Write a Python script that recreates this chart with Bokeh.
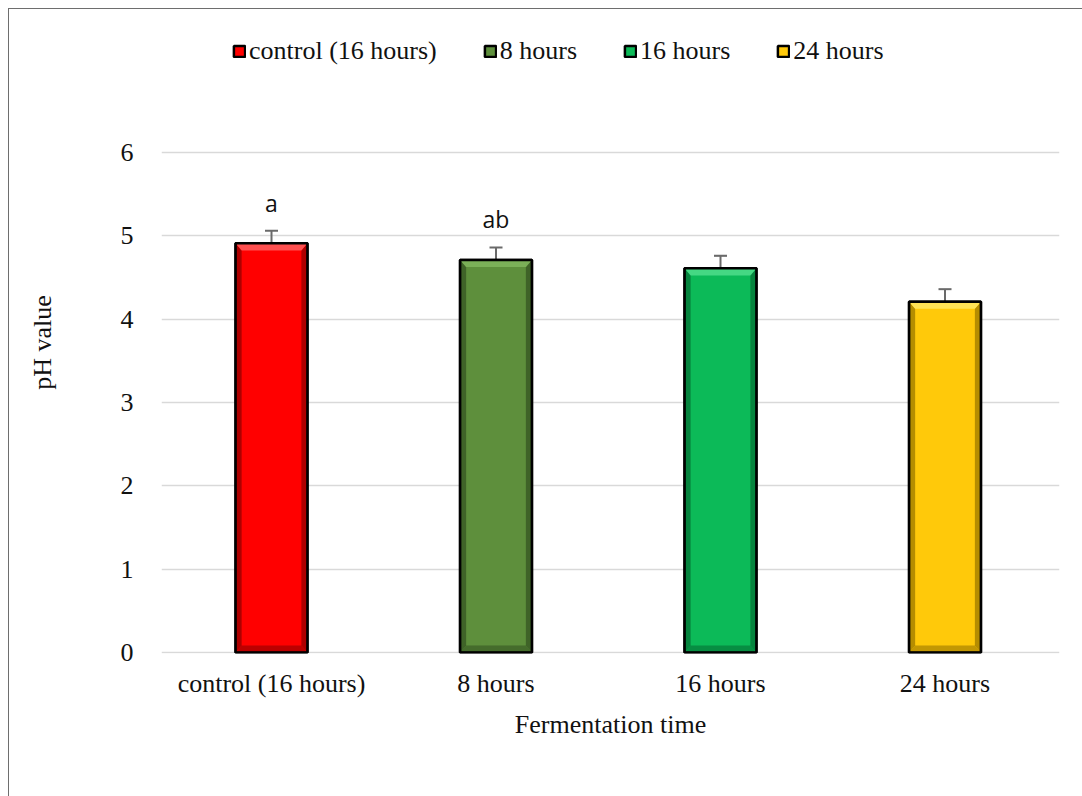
import numpy as np
from bokeh.plotting import figure
from bokeh.models import (ColumnDataSource, Range1d, FixedTicker, Whisker, TeeHead,
                          Legend, LegendItem)
from bokeh.core.properties import value
from bokeh.embed import file_html
from bokeh.resources import INLINE

# ---- data ----
categories = ["control (16 hours)", "8 hours", "16 hours", "24 hours"]
ph_values = [4.91, 4.71, 4.61, 4.21]
ph_errors = [0.15, 0.15, 0.15, 0.15]
sig_letters = ["a", "ab", "", ""]
y_ticks = [0, 1, 2, 3, 4, 5, 6]

# ---- styles ----
main_colors = ["#FF0000", "#5E8F3C", "#0CBA58", "#FFC90A"]
light_colors = ["#FF5050", "#7BB058", "#45D883", "#FFE356"]
dark_colors = ["#A00000", "#3A5C25", "#067A39", "#A88200"]
BAR_W = 0.32
DX = 0.027
DY = 0.085
FONT_PX = "26px"

n = len(categories)
xs = np.arange(1, n + 1, dtype=float)
vals = np.array(ph_values)
errs = np.array(ph_errors)

# frame spans from just under the legend down to the zero line;
# only ticks 0..6 are shown, the space above 6 holds the legend
p = figure(width=1074, height=788, output_backend="svg", toolbar_location=None,
           x_range=Range1d(0.51, n + 0.51), y_range=Range1d(-0.012, 7.452),
           min_border_left=152, min_border_right=24, min_border_top=22,
           min_border_bottom=144, margin=(8, 0, 0, 8))
p.styles = {"border-left": "1px solid #6E6E6E", "border-top": "1px solid #6E6E6E",
            "box-sizing": "border-box"}
p.outline_line_color = None
p.background_fill_color = "white"
p.border_fill_color = "white"

# grid
p.xgrid.grid_line_color = None
p.ygrid.grid_line_color = "#D9D9D9"
p.ygrid.grid_line_width = 1.5

# axes
p.xaxis.ticker = FixedTicker(ticks=list(xs))
p.xaxis.major_label_overrides = {float(x): c for x, c in zip(xs, categories)}
p.xaxis.major_label_overrides.update({int(x): c for x, c in zip(xs, categories)})
p.yaxis.ticker = FixedTicker(ticks=y_ticks)
for ax in (p.xaxis, p.yaxis):
    ax.axis_line_color = None
    ax.major_tick_line_color = None
    ax.minor_tick_line_color = None
    ax.major_label_text_font = "Liberation Serif"
    ax.major_label_text_font_size = FONT_PX
    ax.major_label_text_color = "#111111"
    ax.axis_label_text_font = "Liberation Serif"
    ax.axis_label_text_font_size = FONT_PX
    ax.axis_label_text_font_style = "normal"
    ax.axis_label_text_color = "#111111"
p.yaxis.major_label_standoff = 22
p.xaxis.major_label_standoff = 9
p.xaxis.axis_label = "Fermentation time"
p.xaxis.axis_label_standoff = 9
p.yaxis.axis_label = "pH value"
p.yaxis.axis_label_standoff = 61

# bars
src = ColumnDataSource(dict(
    cat=categories, x=xs, top=vals, left=xs - BAR_W / 2, right=xs + BAR_W / 2,
    bottom=np.zeros(n), color=main_colors,
    upper=vals + errs, lower=vals - errs))
bars = p.quad(left="left", right="right", top="top", bottom="bottom", source=src,
              fill_color="color", line_color="black", line_width=2.5)

# bevel effect
x0 = xs - BAR_W / 2
x1 = xs + BAR_W / 2
top_x, top_y, l_x, l_y, r_x, r_y, b_x, b_y = [], [], [], [], [], [], [], []
for a, b, v in zip(x0, x1, vals):
    top_x.append([a, b, b - DX, a + DX]); top_y.append([v, v, v - DY, v - DY])
    l_x.append([a, a + DX, a + DX, a]); l_y.append([v, v - DY, DY, 0])
    r_x.append([b, b - DX, b - DX, b]); r_y.append([v, v - DY, DY, 0])
    b_x.append([a, a + DX, b - DX, b]); b_y.append([0, DY, DY, 0])
p.patches(l_x, l_y, fill_color=dark_colors, line_color=None, fill_alpha=0.85)
p.patches(r_x, r_y, fill_color=dark_colors, line_color=None, fill_alpha=0.85)
p.patches(b_x, b_y, fill_color=dark_colors, line_color=None, fill_alpha=0.7)
p.patches(top_x, top_y, fill_color=light_colors, line_color=None)
p.quad(left="left", right="right", top="top", bottom="bottom", source=src,
       fill_color=None, line_color="black", line_width=2.5)

# error bars
w = Whisker(source=src, base="x", upper="upper", lower="lower",
            line_color="#6A6A6A", line_width=2,
            upper_head=TeeHead(size=13, line_color="#6A6A6A", line_width=2),
            lower_head=TeeHead(size=13, line_color="#6A6A6A", line_width=2))
p.add_layout(w)

# significance letters
p.text(x=xs, y=vals + errs + 0.34, text=sig_letters, text_align="center",
       text_baseline="alphabetic", text_font=value("Open Sans"),
       text_font_size="23px", text_color="#111111")

# legend (top of the frame, above the 6 gridline)
legend = Legend(items=[LegendItem(label=c, renderers=[bars], index=i)
                       for i, c in enumerate(categories)],
                orientation="horizontal", location=(71, 587),
                glyph_width=14, glyph_height=14, label_standoff=3, spacing=46,
                padding=0, margin=0, border_line_color=None,
                background_fill_alpha=0,
                label_text_font="Liberation Serif", label_text_font_size=FONT_PX,
                label_text_color="#111111")
p.add_layout(legend)

open("out.html", "w").write(file_html(p, INLINE))
